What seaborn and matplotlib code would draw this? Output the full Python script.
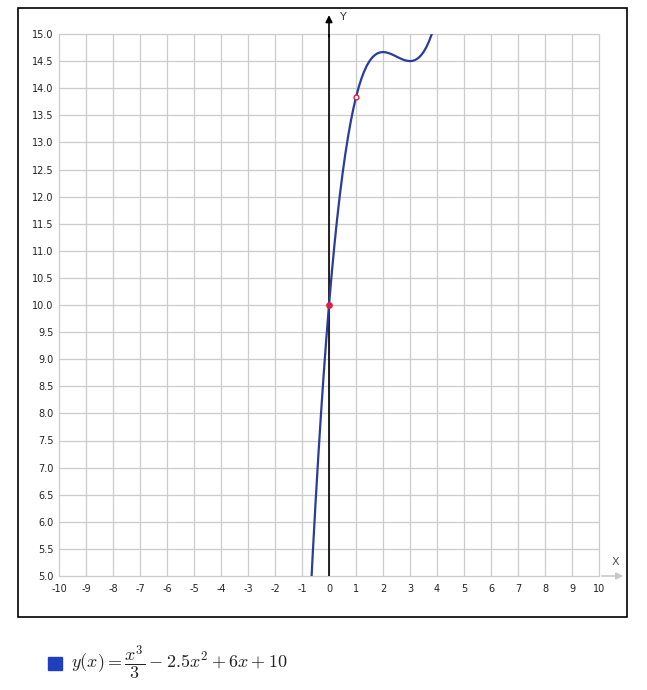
import matplotlib
matplotlib.use("Agg")
import matplotlib.pyplot as plt
import seaborn as sns
import pandas as pd
from matplotlib.patches import Rectangle

sns.set_theme(style="white")
plt.rcParams['font.family'] = ['DejaVu Sans']
plt.rcParams['mathtext.fontset'] = 'cm'

# curve points
x_vals = [-0.7, -0.6, -0.5, -0.4, -0.3, -0.2, -0.1, 0.0, 0.1, 0.2, 0.3, 0.4,
          0.5, 0.6, 0.7, 0.8, 0.9, 1.0, 1.1, 1.2, 1.3, 1.4, 1.5, 1.6, 1.7,
          1.8, 1.9, 2.0, 2.1, 2.2, 2.3, 2.4, 2.5, 2.6, 2.7, 2.8, 2.9, 3.0,
          3.1, 3.2, 3.3, 3.4, 3.5, 3.6, 3.7, 3.8, 3.9]
y_vals = [4.461, 5.428, 6.333, 7.179, 7.966, 8.697, 9.375, 10.0, 10.575,
          11.103, 11.584, 12.021, 12.417, 12.772, 13.089, 13.371, 13.618,
          13.833, 14.019, 14.176, 14.307, 14.415, 14.5, 14.565, 14.613,
          14.644, 14.661, 14.667, 14.662, 14.649, 14.631, 14.608, 14.583,
          14.559, 14.536, 14.517, 14.505, 14.5, 14.505, 14.523, 14.554,
          14.601, 14.667, 14.752, 14.859, 14.991, 15.148]

# marked points
filled_x = [0.0]
filled_y = [10.0]
open_x = [1.0]
open_y = [13.833]

x_ticks = list(range(-10, 11))
y_ticks = [5.0 + 0.5 * i for i in range(21)]

curve_color = "#2a3d9c"
red = "#e0203c"

fig = plt.figure(figsize=(6.47, 6.90), dpi=100)
ax = fig.add_axes([59 / 647, 1 - 576 / 690, 540 / 647, 542 / 690])

# outer frame
fig.patches.append(Rectangle((18 / 647, 1 - 617 / 690), 609 / 647, 609 / 690,
                             transform=fig.transFigure, fill=False,
                             edgecolor="black", linewidth=1.2, zorder=0))

df = pd.DataFrame({"x": x_vals, "y": y_vals})
ax.set_xlim(-10, 10)
ax.set_ylim(5, 15)
ax.set_xticks(x_ticks)
ax.set_yticks(y_ticks)
ax.set_xticklabels([str(t) for t in x_ticks])
ax.set_yticklabels(["%.1f" % t for t in y_ticks])
ax.grid(True, color="#cccccc", linewidth=0.9)
ax.set_axisbelow(True)
for line in ax.get_xgridlines() + ax.get_ygridlines():
    line.set_clip_on(False)
for s in ax.spines.values():
    s.set_visible(False)
ax.tick_params(axis="both", length=0, labelsize=7, colors="#222222")
ax.tick_params(axis="x", pad=6)
ax.tick_params(axis="y", pad=4)

# y axis through x=0 with arrow
ax.axvline(0, color="black", linewidth=1.2, zorder=2)
ax.annotate("", xy=(0, 1.04), xycoords=("data", "axes fraction"),
            xytext=(0, 0.99), textcoords=("data", "axes fraction"),
            arrowprops=dict(arrowstyle="-|>", color="black", lw=1.2,
                            mutation_scale=10), annotation_clip=False)
ax.text(0.4, 15.31, "Y", fontsize=8, color="#333333", ha="left",
        va="center", clip_on=False)

# x axis arrow
ax.annotate("", xy=(11.0, 5), xycoords="data", xytext=(10, 5),
            arrowprops=dict(arrowstyle="-|>", color="#c8c8c8", lw=1.2,
                            mutation_scale=10), annotation_clip=False)
ax.text(10.6, 5.25, "X", fontsize=8, color="#555555", ha="center",
        va="center", clip_on=False)

sns.lineplot(data=df, x="x", y="y", ax=ax, color=curve_color,
             linewidth=1.6, sort=False, zorder=3)
sns.scatterplot(x=filled_x, y=filled_y, ax=ax, color=red, s=20,
                edgecolor=red, zorder=4)
sns.scatterplot(x=open_x, y=open_y, ax=ax, facecolor="white", s=12,
                edgecolor=red, linewidth=1, zorder=4)
ax.set_xlabel("")
ax.set_ylabel("")

# legend below
fig.patches.append(Rectangle((48 / 647, 1 - 670 / 690), 14 / 647, 13 / 690,
                             transform=fig.transFigure, color="#1f3fbf"))
fig.text(71 / 647, 1 - 663 / 690,
         r"$y(x) = \dfrac{x^3}{3} - 2.5x^2 + 6x + 10$",
         fontsize=13, color="#222222", ha="left", va="center")

fig.savefig("out.png", dpi=100)
